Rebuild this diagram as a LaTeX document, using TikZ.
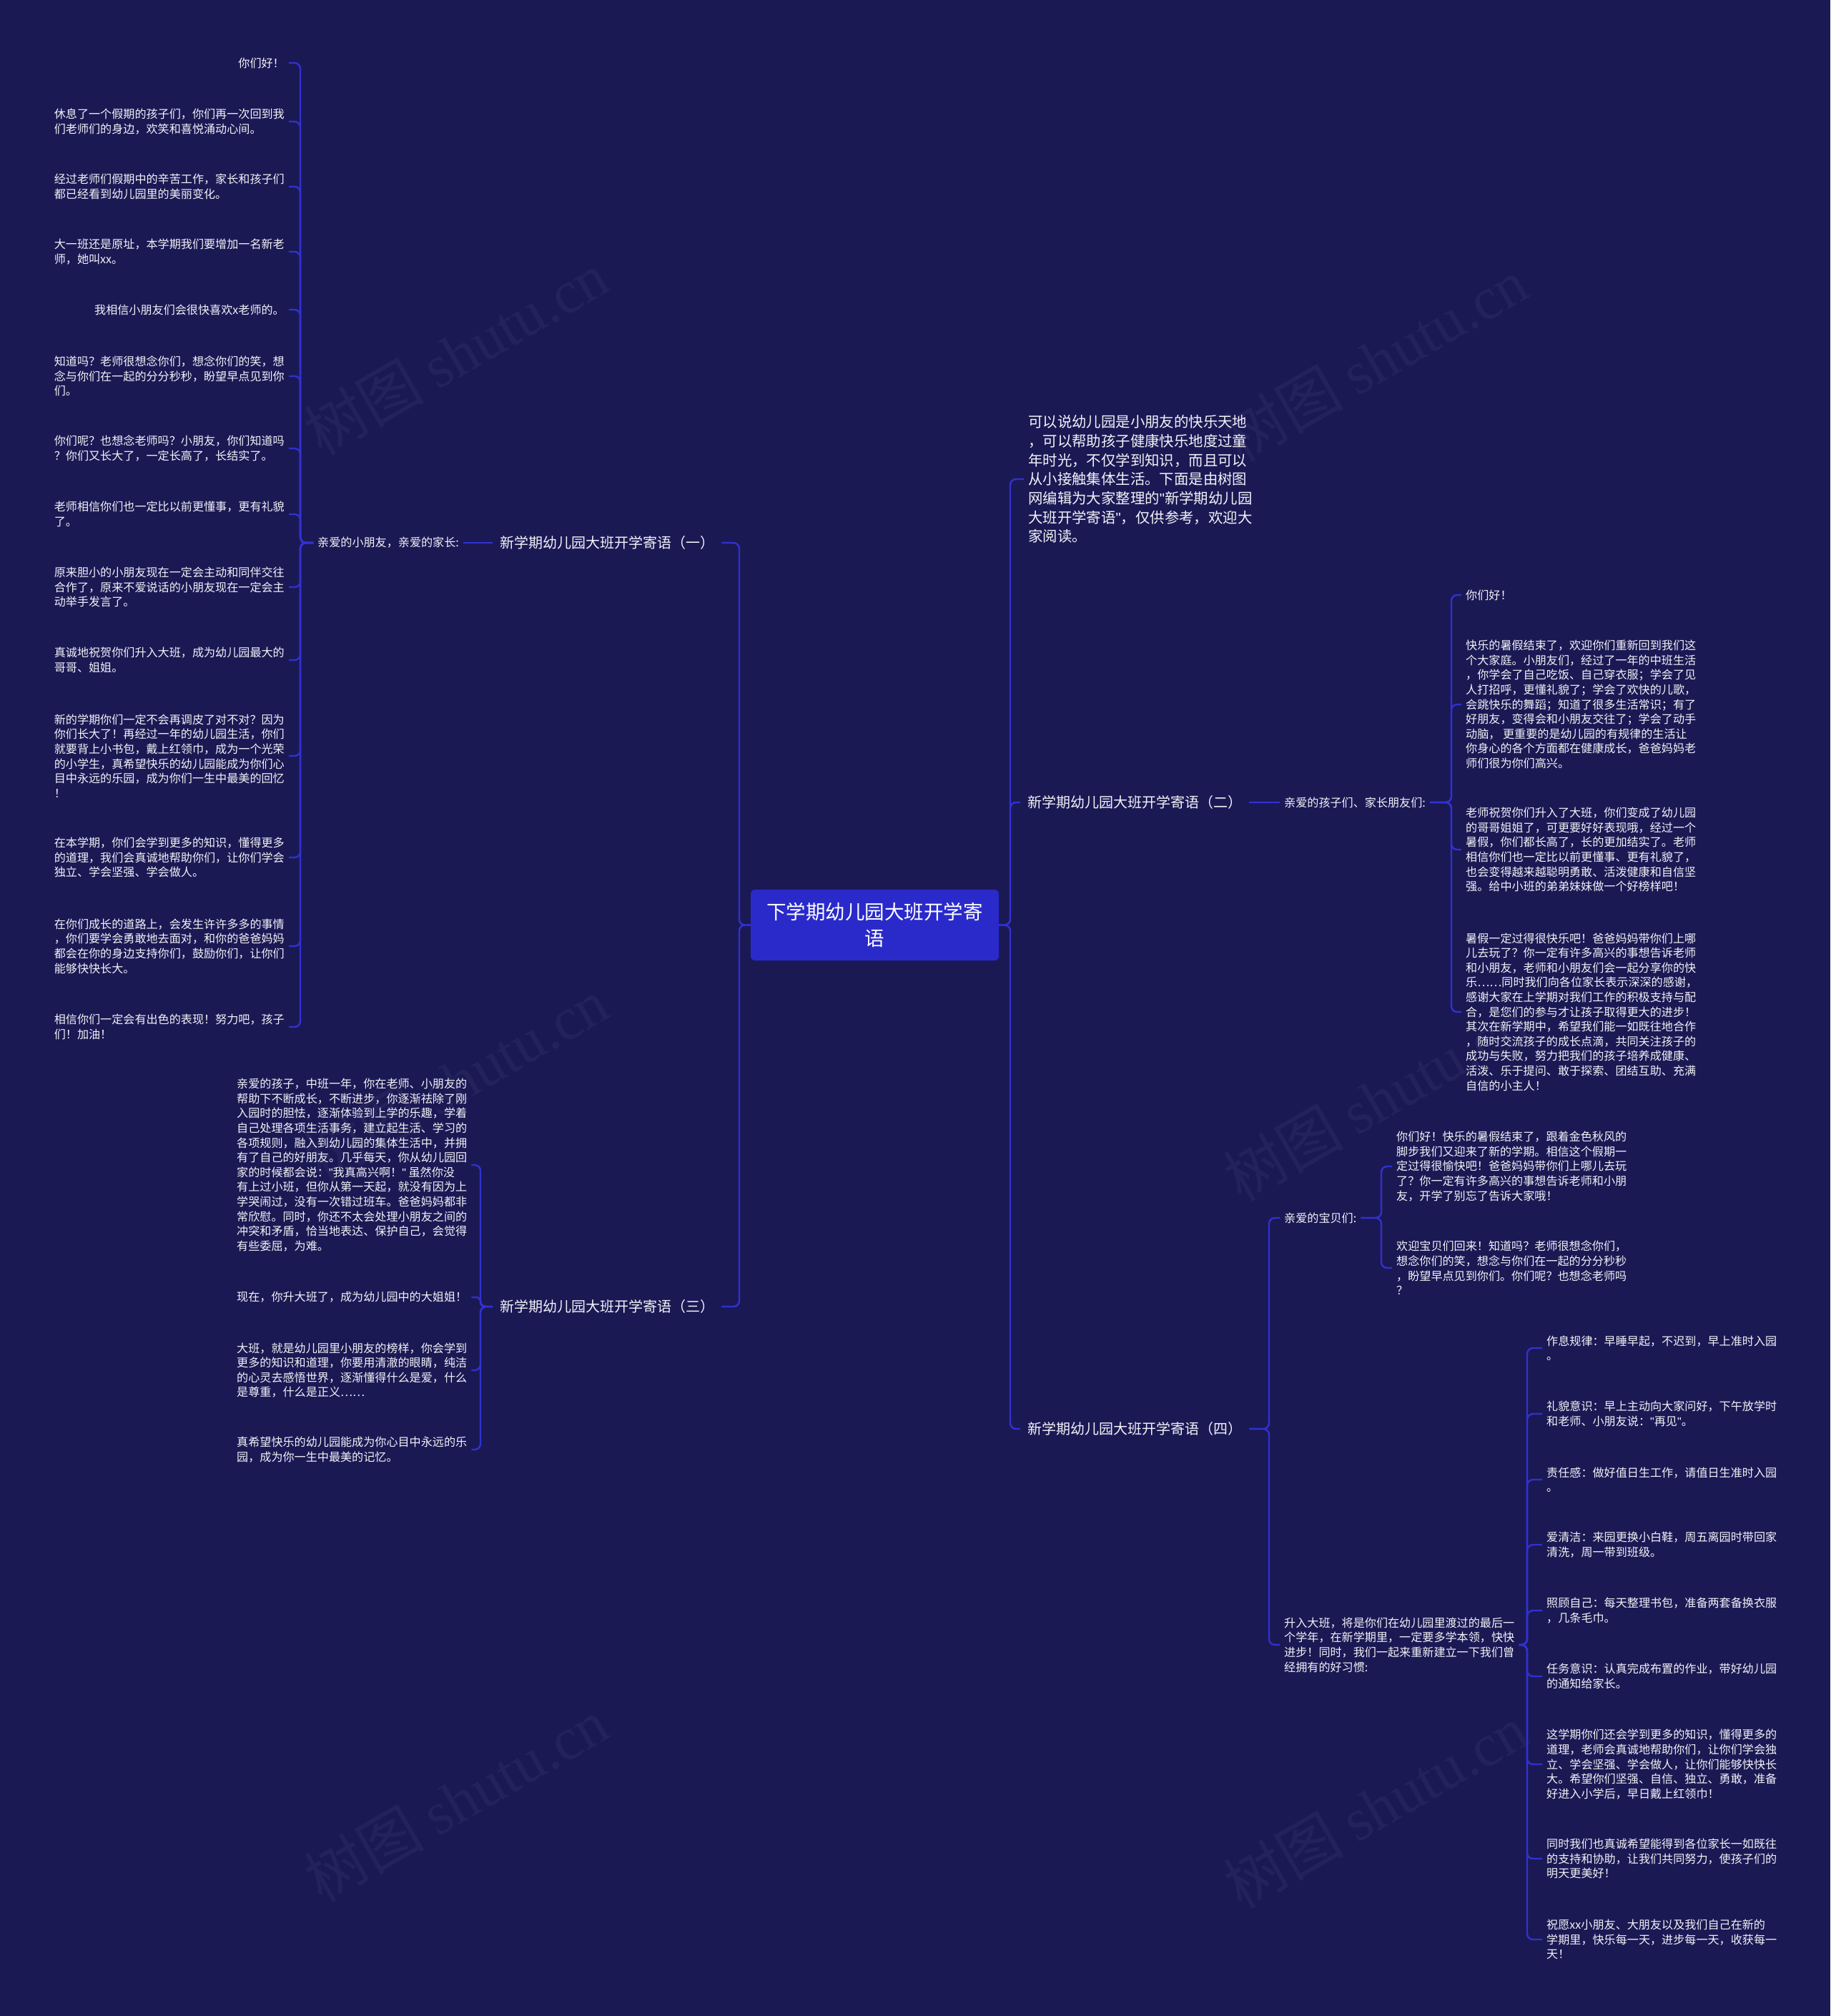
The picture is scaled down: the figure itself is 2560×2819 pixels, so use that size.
\documentclass[tikz,border=0pt]{standalone}
\usepackage{fontspec}
\setmainfont{Noto Sans CJK SC}
\newfontfamily\wmserif{Liberation Serif}
\newfontfamily\latinsans{Liberation Sans}
\newcommand\dq{{\latinsans\symbol{34}}}
\definecolor{bg}{HTML}{1B1954}
\definecolor{ln}{HTML}{3131D2}
\definecolor{rootfill}{HTML}{2A2ACB}
\definecolor{txt}{HTML}{F2F2F7}
\begin{document}
\begin{tikzpicture}[x=1pt,y=-1pt,
  conn/.style={draw=ln, line width=2.4pt, rounded corners=8pt},
  leaf/.style={text=txt, align=left, inner xsep=6pt, inner ysep=0pt, font=\fontsize{16.1}{20.6}\selectfont},
  sub/.style={text=txt, inner xsep=6pt, inner ysep=0pt, font=\fontsize{16.1}{20.6}\selectfont},
  branch/.style={text=txt, inner xsep=10pt, inner ysep=0pt, font=\fontsize{20}{26}\selectfont},
  intro/.style={text=txt, align=left, inner xsep=6pt, inner ysep=0pt, font=\fontsize{20.4}{26.7}\selectfont},
  rootbox/.style={fill=rootfill, rounded corners=6pt, text=white, align=center, minimum width=347pt, minimum height=99pt, inner sep=0pt, font=\fontsize{27.5}{37}\selectfont},
  wm/.style={text=white, text opacity=0.045, font=\fontsize{84}{84}\selectfont, rotate=30}
]
\fill[bg] (0,0) rectangle (2560,2819);
\useasboundingbox (0,0) rectangle (2560,2819);

% watermarks
\node[wm] (w1) at (638,494) {树图 {\wmserif shutu.cn}};
\node[wm] (w2) at (638,1510) {树图 {\wmserif shutu.cn}};
\node[wm] (w3) at (638,2517) {树图 {\wmserif shutu.cn}};
\node[wm] (w4) at (1924,503) {树图 {\wmserif shutu.cn}};
\node[wm] (w5) at (1924,1537) {树图 {\wmserif shutu.cn}};
\node[wm] (w6) at (1924,2526) {树图 {\wmserif shutu.cn}};

% bus coordinates
\coordinate (busL) at (1034,0);
\coordinate (busR) at (1413,0);
\coordinate (bus1) at (420,0);
\coordinate (bus3) at (672,0);
\coordinate (bus2) at (2030,0);
\coordinate (bus4) at (1775,0);
\coordinate (bus4a) at (1932,0);
\coordinate (bus4b) at (2136,0);

% root
\node[rootbox] (root) at (1223.5,1293.5) {下学期幼儿园大班开学寄\\语};

% branches
\node[branch, anchor=west] (b1) at (689,759) {新学期幼儿园大班开学寄语（一）};
\node[branch, anchor=west] (b3) at (689,1827) {新学期幼儿园大班开学寄语（三）};
\node[branch, anchor=west] (b2) at (1427,1122) {新学期幼儿园大班开学寄语（二）};
\node[branch, anchor=west] (b4) at (1427,1998) {新学期幼儿园大班开学寄语（四）};
\node[intro, anchor=west] (intro) at (1432,670) {可以说幼儿园是小朋友的快乐天地\\，可以帮助孩子健康快乐地度过童\\年时光，不仅学到知识，而且可以\\从小接触集体生活。下面是由树图\\网编辑为大家整理的\dq 新学期幼儿园\\大班开学寄语\dq ，仅供参考，欢迎大\\家阅读。};

\draw[conn] (root.west) -- (root.west -| busL) |- (b1.east);
\draw[conn] (root.west) -- (root.west -| busL) |- (b3.east);
\draw[conn] (root.east) -- (root.east -| busR) |- (intro.west);
\draw[conn] (root.east) -- (root.east -| busR) |- (b2.west);
\draw[conn] (root.east) -- (root.east -| busR) |- (b4.west);

% ---- branch 1
\node[sub, anchor=west] (s1) at (438,759) {亲爱的小朋友，亲爱的家长:};
\draw[conn] (b1.west) -- (s1.east);
\node[leaf, anchor=east] (a1) at (404,88) {你们好！};
\node[leaf, anchor=east] (a2) at (404,170) {休息了一个假期的孩子们，你们再一次回到我\\们老师们的身边，欢笑和喜悦涌动心间。};
\node[leaf, anchor=east] (a3) at (404,261) {经过老师们假期中的辛苦工作，家长和孩子们\\都已经看到幼儿园里的美丽变化。};
\node[leaf, anchor=east] (a4) at (404,352) {大一班还是原址，本学期我们要增加一名新老\\师，她叫xx。};
\node[leaf, anchor=east] (a5) at (404,433) {我相信小朋友们会很快喜欢x老师的。};
\node[leaf, anchor=east] (a6) at (404,526) {知道吗？老师很想念你们，想念你们的笑，想\\念与你们在一起的分分秒秒，盼望早点见到你\\们。};
\node[leaf, anchor=east] (a7) at (404,627) {你们呢？也想念老师吗？小朋友，你们知道吗\\？你们又长大了，一定长高了，长结实了。};
\node[leaf, anchor=east] (a8) at (404,719) {老师相信你们也一定比以前更懂事，更有礼貌\\了。};
\node[leaf, anchor=east] (a9) at (404,821) {原来胆小的小朋友现在一定会主动和同伴交往\\合作了，原来不爱说话的小朋友现在一定会主\\动举手发言了。};
\node[leaf, anchor=east] (a10) at (404,923) {真诚地祝贺你们升入大班，成为幼儿园最大的\\哥哥、姐姐。};
\node[leaf, anchor=east] (a11) at (404,1057) {新的学期你们一定不会再调皮了对不对？因为\\你们长大了！再经过一年的幼儿园生活，你们\\就要背上小书包，戴上红领巾，成为一个光荣\\的小学生，真希望快乐的幼儿园能成为你们心\\目中永远的乐园，成为你们一生中最美的回忆\\！};
\node[leaf, anchor=east] (a12) at (404,1199) {在本学期，你们会学到更多的知识，懂得更多\\的道理，我们会真诚地帮助你们，让你们学会\\独立、学会坚强、学会做人。};
\node[leaf, anchor=east] (a13) at (404,1323) {在你们成长的道路上，会发生许许多多的事情\\，你们要学会勇敢地去面对，和你的爸爸妈妈\\都会在你的身边支持你们，鼓励你们，让你们\\能够快快长大。};
\node[leaf, anchor=east] (a14) at (404,1436) {相信你们一定会有出色的表现！努力吧，孩子\\们！加油！};
\foreach \i in {1,...,14} {\draw[conn] (s1.west) -- (s1.west -| bus1) |- (a\i.east);}

% ---- branch 3
\node[leaf, anchor=west] (t1) at (325,1629) {亲爱的孩子，中班一年，你在老师、小朋友的\\帮助下不断成长，不断进步，你逐渐祛除了刚\\入园时的胆怯，逐渐体验到上学的乐趣，学着\\自己处理各项生活事务，建立起生活、学习的\\各项规则，融入到幼儿园的集体生活中，并拥\\有了自己的好朋友。几乎每天，你从幼儿园回\\家的时候都会说：\dq 我真高兴啊！\dq\ 虽然你没\\有上过小班，但你从第一天起，就没有因为上\\学哭闹过，没有一次错过班车。爸爸妈妈都非\\常欣慰。同时，你还不太会处理小朋友之间的\\冲突和矛盾，恰当地表达、保护自己，会觉得\\有些委屈，为难。};
\node[leaf, anchor=west] (t2) at (325,1814) {现在，你升大班了，成为幼儿园中的大姐姐！};
\node[leaf, anchor=west] (t3) at (325,1916) {大班，就是幼儿园里小朋友的榜样，你会学到\\更多的知识和道理，你要用清澈的眼睛，纯洁\\的心灵去感悟世界，逐渐懂得什么是爱，什么\\是尊重，什么是正义……};
\node[leaf, anchor=west] (t4) at (325,2027) {真希望快乐的幼儿园能成为你心目中永远的乐\\园，成为你一生中最美的记忆。};
\draw[conn] (b3.west) -- (b3.west -| bus3) |- (t1.east);
\draw[conn, rounded corners=6pt] (b3.west) -- (b3.west -| bus3) |- (t2.east);
\draw[conn] (b3.west) -- (b3.west -| bus3) |- (t3.east);
\draw[conn] (b3.west) -- (b3.west -| bus3) |- (t4.east);

% ---- branch 2
\node[sub, anchor=west] (s2) at (1790,1122) {亲爱的孩子们、家长朋友们:};
\draw[conn] (b2.east) -- (s2.west);
\node[leaf, anchor=west] (r1) at (2044,832) {你们好！};
\node[leaf, anchor=west] (r2) at (2044,985) {快乐的暑假结束了，欢迎你们重新回到我们这\\个大家庭。小朋友们，经过了一年的中班生活\\，你学会了自己吃饭、自己穿衣服；学会了见\\人打招呼，更懂礼貌了；学会了欢快的儿歌，\\会跳快乐的舞蹈；知道了很多生活常识；有了\\好朋友，变得会和小朋友交往了；学会了动手\\动脑， 更重要的是幼儿园的有规律的生活让\\你身心的各个方面都在健康成长，爸爸妈妈老\\师们很为你们高兴。};
\node[leaf, anchor=west] (r3) at (2044,1188) {老师祝贺你们升入了大班，你们变成了幼儿园\\的哥哥姐姐了，可更要好好表现哦，经过一个\\暑假，你们都长高了，长的更加结实了。老师\\相信你们也一定比以前更懂事、更有礼貌了，\\也会变得越来越聪明勇敢、活泼健康和自信坚\\强。给中小班的弟弟妹妹做一个好榜样吧！};
\node[leaf, anchor=west] (r4) at (2044,1415) {暑假一定过得很快乐吧！爸爸妈妈带你们上哪\\儿去玩了？你一定有许多高兴的事想告诉老师\\和小朋友，老师和小朋友们会一起分享你的快\\乐……同时我们向各位家长表示深深的感谢，\\感谢大家在上学期对我们工作的积极支持与配\\合，是您们的参与才让孩子取得更大的进步！\\其次在新学期中，希望我们能一如既往地合作\\，随时交流孩子的成长点滴，共同关注孩子的\\成功与失败，努力把我们的孩子培养成健康、\\活泼、乐于提问、敢于探索、团结互助、充满\\自信的小主人！};
\foreach \i in {1,...,4} {\draw[conn] (s2.east) -- (s2.east -| bus2) |- (r\i.west);}

% ---- branch 4
\node[sub, anchor=west] (s4a) at (1790,1703) {亲爱的宝贝们:};
\node[leaf, anchor=west] (s4b) at (1790,2300) {升入大班，将是你们在幼儿园里渡过的最后一\\个学年，在新学期里，一定要多学本领，快快\\进步！同时，我们一起来重新建立一下我们曾\\经拥有的好习惯:};
\draw[conn] (b4.east) -- (b4.east -| bus4) |- (s4a.west);
\draw[conn] (b4.east) -- (b4.east -| bus4) |- (s4b.west);

\node[leaf, anchor=west] (c1) at (1947,1631) {你们好！快乐的暑假结束了，跟着金色秋风的\\脚步我们又迎来了新的学期。相信这个假期一\\定过得很愉快吧！爸爸妈妈带你们上哪儿去玩\\了？你一定有许多高兴的事想告诉老师和小朋\\友，开学了别忘了告诉大家哦！};
\node[leaf, anchor=west] (c2) at (1947,1773) {欢迎宝贝们回来！知道吗？老师很想念你们，\\想念你们的笑，想念与你们在一起的分分秒秒\\，盼望早点见到你们。你们呢？也想念老师吗\\？};
\foreach \i in {1,2} {\draw[conn] (s4a.east) -- (s4a.east -| bus4a) |- (c\i.west);}

\node[leaf, anchor=west] (d1) at (2157,1885) {作息规律：早睡早起，不迟到，早上准时入园\\。};
\node[leaf, anchor=west] (d2) at (2157,1977) {礼貌意识：早上主动向大家问好，下午放学时\\和老师、小朋友说：\dq 再见\dq 。};
\node[leaf, anchor=west] (d3) at (2157,2069) {责任感：做好值日生工作，请值日生准时入园\\。};
\node[leaf, anchor=west] (d4) at (2157,2160) {爱清洁：来园更换小白鞋，周五离园时带回家\\清洗，周一带到班级。};
\node[leaf, anchor=west] (d5) at (2157,2252) {照顾自己：每天整理书包，准备两套备换衣服\\，几条毛巾。};
\node[leaf, anchor=west] (d6) at (2157,2344) {任务意识：认真完成布置的作业，带好幼儿园\\的通知给家长。};
\node[leaf, anchor=west] (d7) at (2157,2467) {这学期你们还会学到更多的知识，懂得更多的\\道理，老师会真诚地帮助你们，让你们学会独\\立、学会坚强、学会做人，让你们能够快快长\\大。希望你们坚强、自信、独立、勇敢，准备\\好进入小学后，早日戴上红领巾！};
\node[leaf, anchor=west] (d8) at (2157,2599) {同时我们也真诚希望能得到各位家长一如既往\\的支持和协助，让我们共同努力，使孩子们的\\明天更美好！};
\node[leaf, anchor=west] (d9) at (2157,2712) {祝愿xx小朋友、大朋友以及我们自己在新的\\学期里，快乐每一天，进步每一天，收获每一\\天！};
\foreach \i in {1,...,9} {\draw[conn] (s4b.east) -- (s4b.east -| bus4b) |- (d\i.west);}
\end{tikzpicture}
\end{document}
